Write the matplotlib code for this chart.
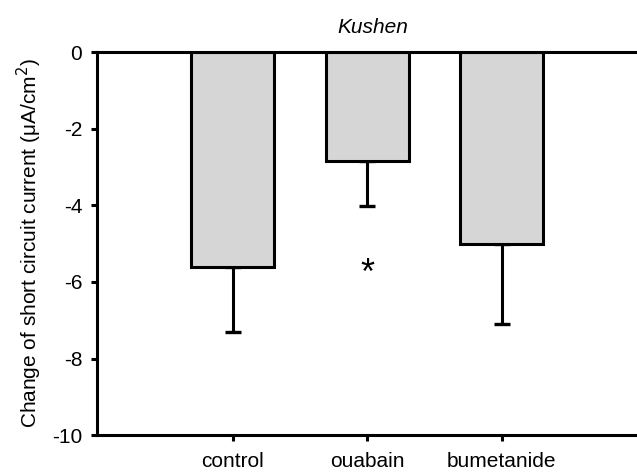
import numpy as np
import matplotlib.pyplot as plt

plt.rcParams['font.family'] = ['Liberation Sans', 'DejaVu Sans']

# Values
groups = ['control', 'ouabain', 'bumetanide']
means = [-5.6, -2.85, -5.0]
errors = [1.7, 1.18, 2.1]
star_group = 1
star_y = -5.8

fig = plt.figure(figsize=(6.37, 4.74), dpi=100)
ax = fig.add_axes([0.152, 0.082, 0.868, 0.808])

x = np.arange(1, len(groups) + 1)
ax.bar(x, means, width=0.62, color='#d6d6d6', edgecolor='black', linewidth=2.2, zorder=2)

# Error bars only going downward (one-sided)
lower = np.array(errors)
upper = np.zeros(len(errors))
ax.errorbar(x, means, yerr=[lower, upper], fmt='none', ecolor='black',
            elinewidth=2.2, capsize=5.5, capthick=2.4, zorder=1)

ax.text(x[star_group], star_y, '*', ha='center', va='center', fontsize=26)

ax.set_xlim(-0.01, 4.1)
ax.set_ylim(-10, 0)
ax.set_yticks([0, -2, -4, -6, -8, -10])
ax.set_yticklabels(['0', '-2', '-4', '-6', '-8', '-10'])
ax.set_xticks(x)
ax.set_xticklabels(groups)

for side in ['left', 'top', 'bottom']:
    ax.spines[side].set_linewidth(2.2)
ax.spines['right'].set_visible(False)

ax.tick_params(axis='both', direction='out', length=4.5, width=2.2, labelsize=15)
ax.tick_params(axis='x', pad=8)
ax.tick_params(axis='y', pad=6)

ax.set_ylabel('Change of short circuit current (\u03bcA/cm$^2$)', fontsize=15, labelpad=6)
ax.set_title('Kushen', fontsize=15, style='italic', pad=14)

plt.savefig('out.png', dpi=100)
